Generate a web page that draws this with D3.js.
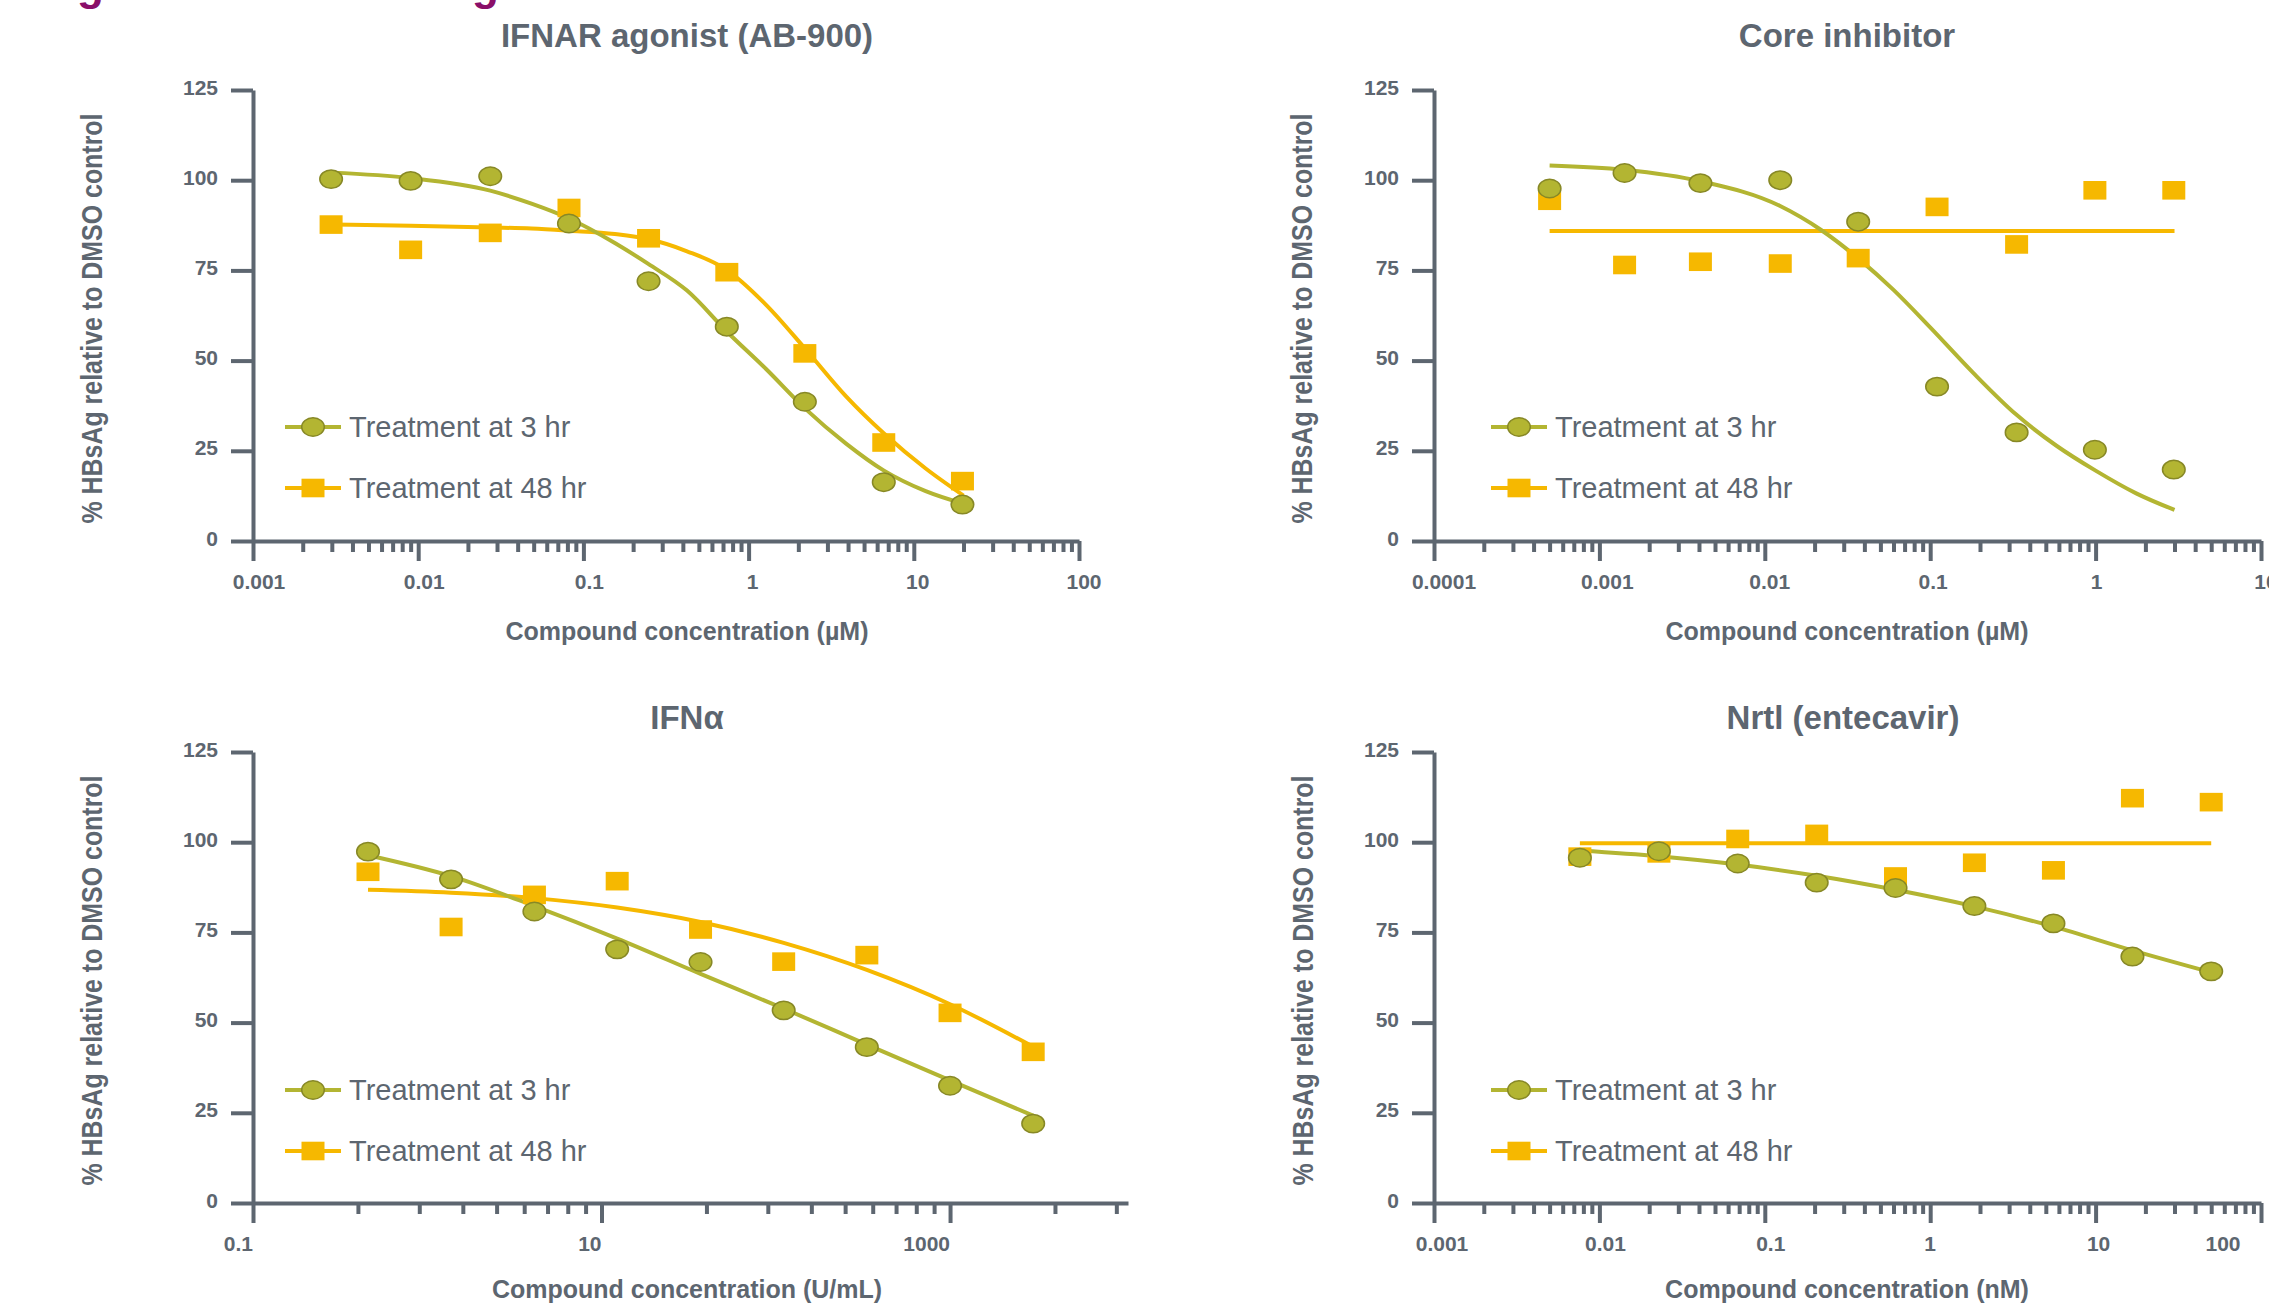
<!DOCTYPE html>
<html>
<head>
<meta charset="utf-8">
<script src="https://cdn.jsdelivr.net/npm/d3@7"></script>
<style>
    body { margin: 0; background: #fff; }
    svg text { font-family: "Liberation Sans", Arial, Helvetica, sans-serif; }
</style>
</head>
<body>
<svg id="chart" width="2269" height="1305"></svg>
<script>
// ---------- values ----------
const yTickValues = [0, 25, 50, 75, 100, 125];
const legendLabels = ['Treatment at 3 hr', 'Treatment at 48 hr'];

// IFNAR agonist (AB-900), µM
const ifnarConc = [0.00297, 0.009, 0.0273, 0.0818, 0.248, 0.738, 2.19, 6.58, 19.7];
const ifnar3hr = [100.3, 99.8, 101.1, 88.0, 72.0, 59.4, 38.6, 16.3, 10.1];
const ifnar48hr = [87.7, 80.7, 85.4, 92.3, 83.9, 74.5, 52.0, 27.3, 16.6];
const ifnarFitConc = [0.003, 0.009, 0.0273, 0.0485, 0.082, 0.155, 0.247, 0.424, 0.74, 1.28, 2.2, 3.89, 6.6, 11.8, 20];
const ifnarFit3hr = [102.1, 100.6, 97.1, 93.5, 89.4, 82.6, 76.8, 69.4, 58.0, 47.6, 36.7, 27.0, 19.5, 13.8, 10.3];
const ifnarFit48hr = [87.7, 87.4, 86.9, 86.6, 86.0, 85.1, 83.7, 80.3, 75.1, 65.4, 53.3, 40.1, 29.8, 20.1, 12.6];
const ifnarTickLabels = ['0.001', '0.01', '0.1', '1', '10', '100'];

// Core inhibitor, µM
const coreConc = [0.0005, 0.00142, 0.00408, 0.0124, 0.0367, 0.11, 0.333, 0.99, 2.97];
const core3hr = [97.7, 102.0, 99.2, 100.0, 88.5, 42.8, 30.1, 25.3, 19.8];
const core48hr = [94.3, 76.5, 77.4, 76.9, 78.4, 92.6, 82.2, 97.2, 97.2];
const coreFitConc = [0.0005, 0.00141, 0.0041, 0.0123, 0.0219, 0.037, 0.06, 0.1, 0.182, 0.33, 0.58, 1.0, 1.76, 3.0];
const coreFit3hr = [104.1, 102.9, 99.7, 92.9, 86.2, 78.2, 69.6, 59.2, 46.6, 35.1, 26.4, 19.5, 13.2, 8.6];
const coreFitConc48 = [0.0005, 3.0];
const coreFit48hr = [85.9, 85.9];
const coreTickLabels = ['0.0001', '0.001', '0.01', '0.1', '1', '10'];

// IFNα, U/mL
const ifnConc = [0.457, 1.37, 4.12, 12.3, 37, 111, 333, 1000, 3000];
const ifn3hr = [97.4, 89.7, 80.8, 70.3, 66.8, 53.4, 43.2, 32.5, 22.0];
const ifn48hr = [91.8, 76.5, 85.4, 89.2, 75.8, 66.9, 68.7, 52.7, 41.9];
const ifnFit3hr = [96.4, 90.6, 82.3, 73.3, 63.5, 53.9, 43.9, 34.0, 24.2];
const ifnFit48hr = [86.8, 86.0, 84.5, 81.9, 77.9, 72.1, 64.6, 55.1, 43.3];
const ifnMajorTicks = [0.1, 10, 1000];
const ifnMinorTicks = [0.4, 0.9, 1.6, 2.5, 3.6, 4.9, 6.4, 8.1, 40, 90, 160, 250, 360, 490, 640, 810, 4000, 9000];
const ifnTickLabels = ['0.1', '10', '1000'];

// Nrtl (entecavir), nM
const nrtiConc = [0.00762, 0.0229, 0.0686, 0.206, 0.617, 1.85, 5.56, 16.7, 50];
const nrti3hr = [95.7, 97.5, 94.1, 88.8, 87.3, 82.3, 77.5, 68.3, 64.2];
const nrti48hr = [96.0, 96.9, 100.9, 102.3, 90.5, 94.3, 92.2, 112.2, 111.1];
const nrtiFit3hr = [97.7, 96.1, 93.8, 90.7, 86.8, 82.2, 76.6, 70.0, 63.9];
const nrtiFitConc48 = [0.00762, 50];
const nrtiFit48hr = [99.7, 99.7];
const nrtiTickLabels = ['0.001', '0.01', '0.1', '1', '10', '100'];

// ---------- styles ----------
const gray = '#5d6670';
const green = '#b3b532';
const greenDark = '#878826';
const orange = '#f6b800';
const purple = '#8a0f69';

const svg = d3.select('#chart');
svg.append('rect').attr('width', 2269).attr('height', 1305).attr('fill', '#fff');

// cut-off heading above the figure (only descenders visible)
[77, 472].forEach(function(px) {
    svg.append('text')
        .text('g')
        .attr('x', px)
        .attr('y', 0)
        .attr('font-size', 44)
        .attr('font-weight', 'bold')
        .attr('fill', purple);
});

const panels = [
    {
        title: 'IFNAR agonist (AB-900)', xTitle: 'Compound concentration (µM)',
        conc: ifnarConc, v3: ifnar3hr, v48: ifnar48hr,
        fit3: d3.zip(ifnarFitConc, ifnarFit3hr), fit48: d3.zip(ifnarFitConc, ifnarFit48hr),
        xDomain: [0.001, 100], xRange: [253, 1079], yRange: [541, 90],
        labels: ifnarTickLabels, labelDx: [6, 6, 6, 4, 4, 5], labelAnchor: 'middle',
        titleX: 687, titleY: 47, xTitleX: 687, xTitleY: 640, yTitleX: 102,
        legendX: 313, legendY: 427
    },
    {
        title: 'Core inhibitor', xTitle: 'Compound concentration (µM)',
        conc: coreConc, v3: core3hr, v48: core48hr,
        fit3: d3.zip(coreFitConc, coreFit3hr), fit48: d3.zip(coreFitConc48, coreFit48hr),
        xDomain: [0.0001, 10], xRange: [1434, 2261], yRange: [541, 90],
        labels: coreTickLabels, labelDx: [10, 8, 5, 3, 1, 5], labelAnchor: 'middle',
        titleX: 1847, titleY: 47, xTitleX: 1847, xTitleY: 640, yTitleX: 1312,
        legendX: 1519, legendY: 427
    },
    {
        title: 'IFNα', xTitle: 'Compound concentration (U/mL)',
        conc: ifnConc, v3: ifn3hr, v48: ifn48hr,
        fit3: d3.zip(ifnConc, ifnFit3hr), fit48: d3.zip(ifnConc, ifnFit48hr),
        xDomain: [0.1, 10500], xRange: [253, 1128], yRange: [1203, 752],
        majors: ifnMajorTicks, minors: ifnMinorTicks,
        labels: ifnTickLabels, labelDx: [0, 0, 0], labelAnchor: 'end',
        titleX: 687, titleY: 729, xTitleX: 687, xTitleY: 1298, yTitleX: 102,
        legendX: 313, legendY: 1090
    },
    {
        title: 'Nrtl (entecavir)', xTitle: 'Compound concentration (nM)',
        conc: nrtiConc, v3: nrti3hr, v48: nrti48hr,
        fit3: d3.zip(nrtiConc, nrtiFit3hr), fit48: d3.zip(nrtiFitConc48, nrtiFit48hr),
        xDomain: [0.001, 100], xRange: [1434, 2261], yRange: [1203, 752],
        labels: nrtiTickLabels, labelDx: [8, 6, 6, 0, 3, -38], labelAnchor: 'middle',
        titleX: 1843, titleY: 729, xTitleX: 1847, xTitleY: 1298, yTitleX: 1313,
        legendX: 1519, legendY: 1090
    }
];

panels.forEach(drawPanel);

function isPow10(d) {
    const l = Math.log10(d);
    return Math.abs(l - Math.round(l)) < 1e-6;
}

function drawCircle(g, cx, cy) {
    g.append('ellipse')
        .attr('cx', cx).attr('cy', cy)
        .attr('rx', 11.3).attr('ry', 9.2)
        .attr('fill', green)
        .attr('stroke', greenDark)
        .attr('stroke-width', 1.5);
}

function drawSquare(g, cx, cy) {
    g.append('rect')
        .attr('x', cx - 11.5).attr('y', cy - 9.3)
        .attr('width', 23).attr('height', 18.6)
        .attr('fill', orange);
}

function drawPanel(p) {
    const g = svg.append('g');
    const x = d3.scaleLog().domain(p.xDomain).range(p.xRange);
    const y = d3.scaleLinear().domain([0, 125]).range(p.yRange);

    const majors = p.majors || x.ticks().filter(isPow10);
    const minors = p.minors || x.ticks().filter(d => !isPow10(d));

    // y axis
    const yAxis = g.append('g')
        .attr('transform', `translate(${p.xRange[0]},0)`)
        .call(d3.axisLeft(y).tickValues(yTickValues).tickSize(22).tickSizeOuter(0).tickPadding(13));
    yAxis.attr('font-family', null).attr('font-size', 21).attr('font-weight', 'bold')
        .style('color', gray);
    yAxis.select('.domain').attr('stroke-width', 4);
    yAxis.selectAll('.tick line').attr('stroke-width', 4);
    yAxis.selectAll('.tick text').attr('dy', '0.19em');

    // x axis, major and minor ticks
    const xAxis = g.append('g')
        .attr('transform', `translate(0,${p.yRange[0]})`)
        .call(d3.axisBottom(x).tickValues(majors).tickSize(20).tickSizeOuter(0).tickFormat(''));
    xAxis.style('color', gray);
    xAxis.select('.domain').attr('stroke-width', 4);
    xAxis.selectAll('.tick line').attr('stroke-width', 4);

    const xMinor = g.append('g')
        .attr('transform', `translate(0,${p.yRange[0]})`)
        .call(d3.axisBottom(x).tickValues(minors).tickSize(11).tickFormat(''));
    xMinor.style('color', gray);
    xMinor.select('.domain').remove();
    xMinor.selectAll('.tick line').attr('stroke-width', 4);

    majors.forEach(function(d, i) {
        g.append('text')
            .text(p.labels[i])
            .attr('x', x(d) + p.labelDx[i])
            .attr('y', p.yRange[0] + 48)
            .attr('text-anchor', p.labelAnchor)
            .attr('font-size', 21)
            .attr('font-weight', 'bold')
            .attr('fill', gray);
    });

    // titles
    g.append('text')
        .text(p.title)
        .attr('x', p.titleX).attr('y', p.titleY)
        .attr('text-anchor', 'middle')
        .attr('font-size', 33).attr('font-weight', 'bold')
        .attr('fill', gray);

    g.append('text')
        .text(p.xTitle)
        .attr('x', p.xTitleX).attr('y', p.xTitleY)
        .attr('text-anchor', 'middle')
        .attr('font-size', 25).attr('font-weight', 'bold')
        .attr('fill', gray);

    const midY = (p.yRange[0] + p.yRange[1]) / 2 + 3;
    g.append('text')
        .text('% HBsAg relative to DMSO control')
        .attr('transform', `translate(${p.yTitleX},${midY}) rotate(-90)`)
        .attr('text-anchor', 'middle')
        .attr('font-size', 29).attr('font-weight', 'bold')
        .attr('textLength', 410).attr('lengthAdjust', 'spacingAndGlyphs')
        .attr('fill', gray);

    // fitted curves
    const line = d3.line()
        .x(d => x(d[0]))
        .y(d => y(d[1]))
        .curve(d3.curveMonotoneX);

    g.append('path')
        .datum(p.fit48)
        .attr('d', line)
        .attr('fill', 'none')
        .attr('stroke', orange)
        .attr('stroke-width', 4);

    g.append('path')
        .datum(p.fit3)
        .attr('d', line)
        .attr('fill', 'none')
        .attr('stroke', green)
        .attr('stroke-width', 4);

    // data points
    p.conc.forEach(function(c, i) {
        drawSquare(g, x(c), y(p.v48[i]));
    });
    p.conc.forEach(function(c, i) {
        drawCircle(g, x(c), y(p.v3[i]));
    });

    // legend
    [0, 1].forEach(function(k) {
        const ly = p.legendY + k * 61;
        g.append('line')
            .attr('x1', p.legendX - 28).attr('x2', p.legendX + 28)
            .attr('y1', ly).attr('y2', ly)
            .attr('stroke', k === 0 ? green : orange)
            .attr('stroke-width', 4);
        if (k === 0) {
            drawCircle(g, p.legendX, ly);
        } else {
            drawSquare(g, p.legendX, ly);
        }
        g.append('text')
            .text(legendLabels[k])
            .attr('x', p.legendX + 36)
            .attr('y', ly + 10)
            .attr('font-size', 29)
            .attr('fill', gray);
    });
}
</script>
</body>
</html>
